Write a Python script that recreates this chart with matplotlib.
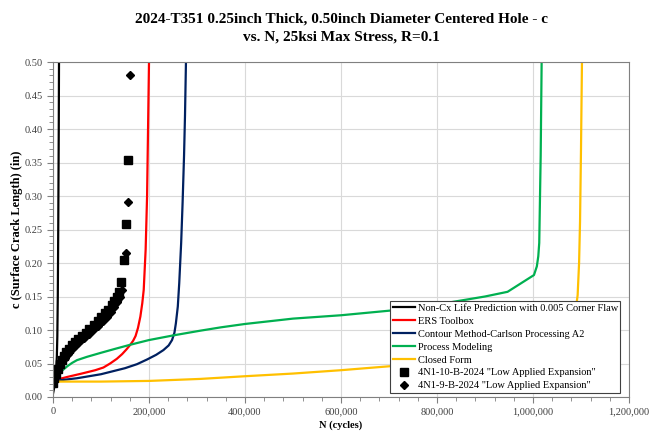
import numpy as np
import matplotlib
matplotlib.use("Agg")
import matplotlib.pyplot as plt
from matplotlib.ticker import MultipleLocator, FuncFormatter

plt.rcParams['font.family'] = ['Liberation Serif', 'DejaVu Serif']

# Predicted crack growth curves (N in cycles, c in inches)
noncx_n = [0, 2000, 4000, 6500, 8000, 9000, 10000, 11000, 12000, 12500]
noncx_c = [0.005, 0.012, 0.022, 0.040, 0.060, 0.090, 0.150, 0.260, 0.400, 0.500]

ers_n = [3000, 30000, 60000, 88000, 105000, 119000, 133000, 144000, 153000,
         161000, 167000, 172000, 177000, 182000, 186000, 189000, 193000,
         196000, 198000, 200000]
ers_c = [0.025, 0.030, 0.035, 0.040, 0.044, 0.050, 0.057, 0.064, 0.071,
         0.078, 0.084, 0.091, 0.103, 0.120, 0.140, 0.160, 0.220,
         0.300, 0.400, 0.500]

contour_n = [3000, 50000, 100000, 150000, 175000, 196000, 215000, 230000,
             241000, 248000, 253000, 256000, 260000, 263000, 267000, 270000,
             273000, 275000, 277000]
contour_c = [0.024, 0.028, 0.034, 0.043, 0.049, 0.056, 0.063, 0.070,
             0.077, 0.085, 0.096, 0.110, 0.135, 0.170, 0.230, 0.290,
             0.360, 0.420, 0.500]

process_n = [2000, 6000, 10000, 15000, 20000, 30000, 40000, 50000, 71000,
             100000, 130000, 161000, 200000, 251000, 307000, 350000, 400000,
             500000, 600000, 703000, 800000, 900000, 947000, 1002000,
             1008000, 1011000, 1013000, 1016000, 1018000]
process_c = [0.024, 0.027, 0.031, 0.036, 0.040, 0.046, 0.051, 0.055, 0.060,
             0.066, 0.072, 0.078, 0.085, 0.092, 0.099, 0.104, 0.109,
             0.117, 0.122, 0.129, 0.138, 0.150, 0.157, 0.182,
             0.195, 0.210, 0.230, 0.360, 0.500]

closed_n = [2000, 100000, 200000, 307000, 400000, 500000, 600000, 703000,
            800000, 900000, 1000000, 1040000, 1065000, 1080000, 1088000,
            1093000, 1096000, 1098000, 1100000, 1102000]
closed_c = [0.023, 0.023, 0.024, 0.027, 0.031, 0.035, 0.040, 0.046,
            0.052, 0.060, 0.072, 0.082, 0.094, 0.108, 0.125,
            0.152, 0.200, 0.262, 0.370, 0.500]

# Test data
test10_n = [0, 3000, 6000, 10000, 14000, 18000, 23000, 28000, 34000, 40000,
            46000, 52000, 60000, 68000, 76000, 85000, 93000, 100000, 108000,
            115000, 122000, 128000, 133000, 137000, 141000, 147000, 152000, 157000]
test10_c = [0.021, 0.028, 0.035, 0.042, 0.049, 0.055, 0.061, 0.067, 0.072, 0.077,
            0.082, 0.086, 0.091, 0.096, 0.101, 0.107, 0.113, 0.119, 0.125,
            0.130, 0.137, 0.143, 0.150, 0.157, 0.171, 0.205, 0.258, 0.354]

test9_n = [2000, 5000, 9000, 13000, 18000, 24000, 31000, 38000, 46000, 55000,
           64000, 74000, 84000, 94000, 104000, 113000, 121000, 128000, 134000,
           139000, 143000, 152000, 157000, 161000]
test9_c = [0.024, 0.031, 0.038, 0.045, 0.052, 0.058, 0.064, 0.070, 0.076, 0.082,
           0.088, 0.094, 0.100, 0.106, 0.113, 0.120, 0.127, 0.134, 0.142,
           0.150, 0.160, 0.215, 0.291, 0.480]

fig = plt.figure(figsize=(6.55, 4.32), dpi=100)
ax = fig.add_axes([53 / 655, 1 - 397 / 432, 576 / 655, 335 / 432])

lw = 1.6
ax.plot(noncx_n, noncx_c, color='black', lw=lw,
        label='Non-Cx Life Prediction with 0.005 Corner Flaw')
ax.plot(ers_n, ers_c, color='#FF0000', lw=lw, label='ERS Toolbox')
ax.plot(contour_n, contour_c, color='#002060', lw=lw,
        label='Contour Method-Carlson Processing A2')
ax.plot(process_n, process_c, color='#00B050', lw=lw, label='Process Modeling')
ax.plot(closed_n, closed_c, color='#FFC000', lw=lw, label='Closed Form')
ax.plot(test10_n, test10_c, ls='none', marker='s', ms=6.2, color='black',
        label='4N1-10-B-2024 "Low Applied Expansion"')
ax.plot(test9_n, test9_c, ls='none', marker='D', ms=3.8, color='black',
        label='4N1-9-B-2024 "Low Applied Expansion"')

ax.set_xlim(0, 1200000)
ax.set_ylim(0, 0.5)
ax.xaxis.set_major_locator(MultipleLocator(200000))
ax.xaxis.set_minor_locator(MultipleLocator(40000))
ax.yaxis.set_major_locator(MultipleLocator(0.05))
ax.yaxis.set_minor_locator(MultipleLocator(0.01))
ax.xaxis.set_major_formatter(FuncFormatter(lambda v, p: f'{v:,.0f}'))
ax.yaxis.set_major_formatter(FuncFormatter(lambda v, p: f'{v:.2f}'))

ax.grid(True, which='major', color='#d9d9d9', lw=0.8)
ax.set_axisbelow(True)
for s in ax.spines.values():
    s.set_color('#808080')
    s.set_linewidth(0.8)
ax.tick_params(which='both', direction='out', color='#808080', labelsize=7.5,
               labelcolor='#404040')
ax.tick_params(which='major', length=4)
ax.tick_params(which='minor', length=3)

ax.set_xlabel('N (cycles)', fontsize=7.5, fontweight='bold', labelpad=3)
ax.set_ylabel('c (Surface Crack Length) (in)', fontsize=9, fontweight='bold',
              labelpad=1)

fig.text(341 / 655, 1 - 28 / 432,
         '2024-T351 0.25inch Thick, 0.50inch Diameter Centered Hole - c\n'
         'vs. N, 25ksi Max Stress, R=0.1',
         ha='center', va='center', fontsize=11, fontweight='bold',
         linespacing=1.55)

leg = ax.legend(loc='lower right', bbox_to_anchor=(0.985, 0.012), fontsize=7.5,
                frameon=True, fancybox=False, borderpad=0.25, labelspacing=0.35,
                handlelength=2.2, handletextpad=0.2, borderaxespad=0)
leg.get_frame().set_edgecolor('#404040')
leg.get_frame().set_linewidth(0.8)
leg.get_frame().set_alpha(1)

fig.savefig('out.png', dpi=100)
